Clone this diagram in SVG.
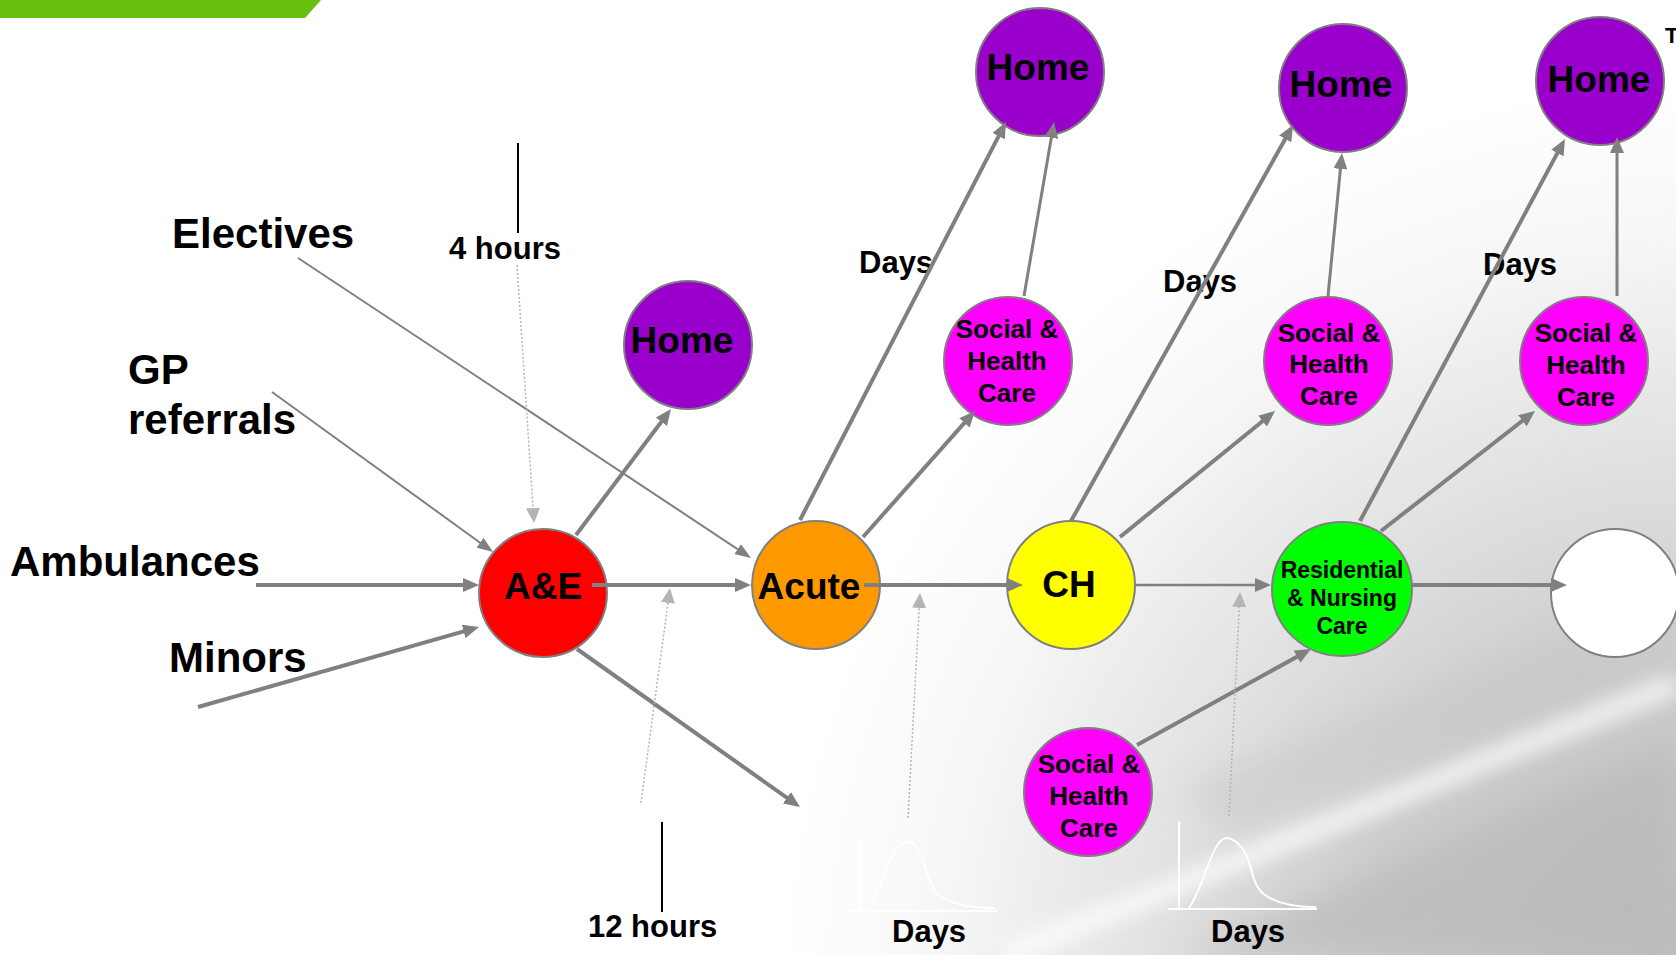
<svg xmlns="http://www.w3.org/2000/svg" width="1676" height="955" viewBox="0 0 1676 955">
  <defs>
    <radialGradient id="haze" cx="1700" cy="1000" r="1150" gradientUnits="userSpaceOnUse">
      <stop offset="0" stop-color="#bcbcbc"/>
      <stop offset="0.3" stop-color="#cccccc"/>
      <stop offset="0.5" stop-color="#e4e4e4"/>
      <stop offset="0.68" stop-color="#f8f8f8"/>
      <stop offset="0.8" stop-color="#ffffff"/>
    </radialGradient>
    <filter id="soft" x="-30%" y="-30%" width="160%" height="160%">
      <feGaussianBlur stdDeviation="16"/>
    </filter>
    <filter id="softer" x="-30%" y="-30%" width="160%" height="160%">
      <feGaussianBlur stdDeviation="9"/>
    </filter>
    <marker id="arr" markerUnits="userSpaceOnUse" markerWidth="16" markerHeight="14" refX="11" refY="7" orient="auto">
      <path d="M0,0 L16,7 L0,14 z" fill="#808080"/>
    </marker>
    <marker id="arrS" markerUnits="userSpaceOnUse" markerWidth="16" markerHeight="12" refX="12" refY="6" orient="auto">
      <path d="M0,0 L16,6 L0,12 z" fill="#808080"/>
    </marker>
    <marker id="arrD" markerUnits="userSpaceOnUse" markerWidth="15" markerHeight="14" refX="10" refY="7" orient="auto">
      <path d="M0,0 L15,7 L0,14 z" fill="#b4b4b4"/>
    </marker>
  </defs>
  <style>
    text { font-family: "Liberation Sans", Arial, sans-serif; font-weight: bold; fill: #000; }
    .node { stroke: #808080; stroke-width: 2; }
    .lbl { font-size: 42px; }
    .time { font-size: 31px; }
    .big { font-size: 37px; text-anchor: middle; }
    .mid { font-size: 26px; text-anchor: middle; }
    .sm { font-size: 23px; text-anchor: middle; }
    .edge { stroke: #808080; fill: none; stroke-width: 4; marker-end: url(#arr); }
    .thin { stroke: #808080; fill: none; stroke-width: 2; marker-end: url(#arrS); }
    .dot { stroke: #b4b4b4; fill: none; stroke-width: 1.5; stroke-dasharray: 2 2; marker-end: url(#arrD); }
    .curve { stroke: #ffffff; fill: none; stroke-width: 2; }
  </style>

  <!-- backdrop: white page fading into a soft grey photo at the lower right -->
  <rect width="1676" height="955" fill="#ffffff"/>
  <rect width="1676" height="955" fill="url(#haze)"/>
  <g id="backdrop-streaks">
    <polygon points="1180,955 1676,745 1676,955" fill="#b6b6b6" opacity="0.55" filter="url(#soft)"/>
    <polygon points="1180,790 1676,585 1676,650 1230,830" fill="#c6c6c6" opacity="0.5" filter="url(#soft)"/>
    <line x1="1005" y1="955" x2="1676" y2="684" stroke="#ffffff" stroke-width="22" opacity="0.7" filter="url(#softer)"/>
  </g>

  <!-- header bar -->
  <polygon id="header-bar" points="0,0 321,0 305,18 0,18" fill="#67c010"/>
  <text x="1665" y="43" style="font-size:22px">T</text>

  <!-- source labels -->
  <g id="labels">
    <text class="lbl" x="172" y="248">Electives</text>
    <text class="lbl" x="128" y="384">GP</text>
    <text class="lbl" x="128" y="434">referrals</text>
    <text class="lbl" x="10" y="576">Ambulances</text>
    <text class="lbl" x="169" y="672">Minors</text>
  </g>

  <!-- time scales -->
  <g id="timescales">
    <line x1="518" y1="143" x2="518" y2="233" stroke="#000" stroke-width="2"/>
    <text class="time" x="449" y="259">4 hours</text>
    <line x1="662" y1="822" x2="662" y2="912" stroke="#000" stroke-width="2"/>
    <text class="time" x="588" y="937">12 hours</text>
    <text class="time" x="859" y="273">Days</text>
    <text class="time" x="1163" y="292">Days</text>
    <text class="time" x="1483" y="275">Days</text>
    <text class="time" x="892" y="942">Days</text>
    <text class="time" x="1211" y="942">Days</text>
    <!-- length-of-stay distributions -->
    <path class="curve" d="M860,838 L860,911 M848,911 L997,911"/>
    <path class="curve" d="M868,911 C885,880 892,842 908,842 C922,842 926,880 936,893 C950,906 975,908 995,908"/>
    <path class="curve" d="M1179,821 L1179,909 M1168,909 L1317,909"/>
    <path class="curve" d="M1189,908 C1205,885 1212,838 1227,838 C1240,840 1247,855 1250,865 C1254,880 1256,890 1268,897 C1282,905 1298,907 1316,907"/>
  </g>

  <!-- nodes -->
  <g id="node-ae">
    <circle class="node" cx="543" cy="593" r="64" fill="#ff0000"/>
    <text class="big" x="543" y="599">A&amp;E</text>
  </g>
  <g id="node-acute">
    <circle class="node" cx="816" cy="585" r="64" fill="#ff9900"/>
    <text class="big" x="809" y="599">Acute</text>
  </g>
  <g id="node-ch">
    <circle class="node" cx="1071" cy="585" r="64" fill="#ffff00"/>
    <text class="big" x="1069" y="597">CH</text>
  </g>
  <g id="node-residential">
    <ellipse class="node" cx="1342" cy="589" rx="70" ry="67" fill="#00ff00"/>
    <text class="sm" x="1342" y="578">Residential</text>
    <text class="sm" x="1342" y="606">&amp; Nursing</text>
    <text class="sm" x="1342" y="634">Care</text>
  </g>
  <g id="node-next">
    <circle class="node" cx="1615" cy="593" r="64" fill="#ffffff"/>
  </g>
  <g id="node-home-ae">
    <circle class="node" cx="688" cy="345" r="64" fill="#9900cc"/>
    <text class="big" x="682" y="353">Home</text>
  </g>
  <g id="node-home-acute">
    <circle class="node" cx="1040" cy="72" r="64" fill="#9900cc"/>
    <text class="big" x="1038" y="80">Home</text>
  </g>
  <g id="node-home-ch">
    <circle class="node" cx="1343" cy="88" r="64" fill="#9900cc"/>
    <text class="big" x="1341" y="97">Home</text>
  </g>
  <g id="node-home-res">
    <circle class="node" cx="1600" cy="81" r="64" fill="#9900cc"/>
    <text class="big" x="1599" y="92">Home</text>
  </g>
  <g id="node-shc-acute">
    <circle class="node" cx="1008" cy="361" r="64" fill="#ff00ff"/>
    <text class="mid" x="1007" y="338">Social &amp;</text>
    <text class="mid" x="1007" y="370">Health</text>
    <text class="mid" x="1007" y="402">Care</text>
  </g>
  <g id="node-shc-ch">
    <circle class="node" cx="1328" cy="361" r="64" fill="#ff00ff"/>
    <text class="mid" x="1329" y="342">Social &amp;</text>
    <text class="mid" x="1329" y="373">Health</text>
    <text class="mid" x="1329" y="405">Care</text>
  </g>
  <g id="node-shc-res">
    <circle class="node" cx="1584" cy="361" r="64" fill="#ff00ff"/>
    <text class="mid" x="1586" y="342">Social &amp;</text>
    <text class="mid" x="1586" y="374">Health</text>
    <text class="mid" x="1586" y="406">Care</text>
  </g>
  <g id="node-shc-in">
    <circle class="node" cx="1088" cy="792" r="64" fill="#ff00ff"/>
    <text class="mid" x="1089" y="773">Social &amp;</text>
    <text class="mid" x="1089" y="805">Health</text>
    <text class="mid" x="1089" y="837">Care</text>
  </g>

  <!-- connectors -->
  <g id="connectors">
    <line class="thin" x1="298" y1="258" x2="747.7" y2="555.8"/>
    <line class="thin" x1="272" y1="392" x2="489.8" y2="549.7"/>
    <line class="edge" x1="256" y1="585" x2="474" y2="585"/>
    <line class="edge" x1="198" y1="707" x2="474.2" y2="628.4"/>
    <line class="edge" x1="592" y1="585" x2="746" y2="585"/>
    <line class="edge" x1="576" y1="535" x2="668" y2="413"/>
    <line class="edge" x1="577" y1="649" x2="795.9" y2="804.1"/>
    <line class="edge" x1="800" y1="520" x2="1003.7" y2="126.4"/>
    <line class="edge" x1="1024" y1="296" x2="1053.2" y2="126.9" style="stroke-width:3"/>
    <line class="edge" x1="863" y1="537" x2="971.7" y2="414.7"/>
    <line class="edge" x1="864" y1="585" x2="1018" y2="585"/>
    <line class="edge" x1="1071" y1="521" x2="1290.6" y2="129.4"/>
    <line class="edge" x1="1328" y1="296" x2="1341.5" y2="158" style="stroke-width:3"/>
    <line class="edge" x1="1120" y1="537" x2="1271.1" y2="414.2"/>
    <line class="edge" x1="1136" y1="585" x2="1266" y2="585" style="stroke-width:2.5"/>
    <line class="edge" x1="1360" y1="521" x2="1562.6" y2="143.4"/>
    <line class="edge" x1="1617" y1="296" x2="1617" y2="142" style="stroke-width:3"/>
    <line class="edge" x1="1381" y1="531" x2="1531.1" y2="414.1"/>
    <line class="edge" x1="1412" y1="585" x2="1562" y2="585"/>
    <line class="edge" x1="1137" y1="745" x2="1306.6" y2="651.4"/>
    <line class="dot" x1="517" y1="265" x2="533.7" y2="518"/>
    <line class="dot" x1="641" y1="803" x2="669.3" y2="593"/>
    <line class="dot" x1="908" y1="818" x2="919.7" y2="598"/>
    <line class="dot" x1="1229" y1="816" x2="1239.8" y2="597"/>
  </g>
</svg>
